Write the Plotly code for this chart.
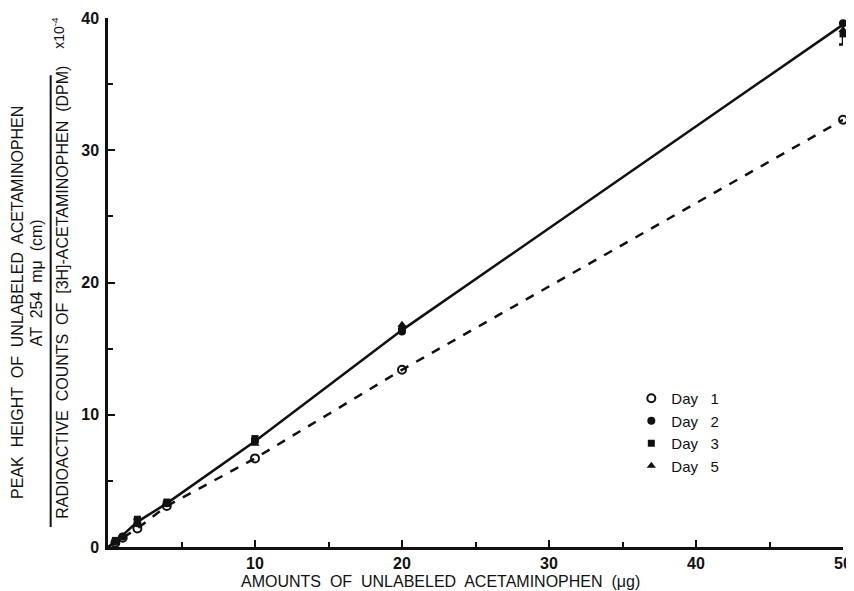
import plotly.graph_objects as go

# Data
day1_x = [0.5, 1, 2, 4, 10, 20, 50]
day1_y = [0.3, 0.7, 1.4, 3.1, 6.7, 13.4, 32.3]
day2_x = [0.5, 1, 2, 4, 10, 20, 50]
day2_y = [0.4, 0.8, 1.8, 3.3, 8.0, 16.3, 39.6]
day3_x = [0.5, 2, 4, 10, 20, 50]
day3_y = [0.5, 2.1, 3.4, 8.2, 16.5, 38.8]
day3_err = [0, 0, 0, 0, 0, 0.8]
day5_x = [4, 10, 20, 50]
day5_y = [3.2, 7.8, 16.8, 39.1]
fit_solid_x = [0, 0.5, 1, 2, 4, 10, 20, 50]
fit_solid_y = [0, 0.4, 0.9, 1.9, 3.3, 8.0, 16.4, 39.5]
fit_dash_x = [0, 0.5, 1, 2, 4, 10, 20, 50]
fit_dash_y = [0, 0.3, 0.7, 1.4, 3.1, 6.7, 13.4, 32.3]

x_ticks = [10, 20, 30, 40, 50]
y_ticks = [0, 10, 20, 30, 40]

INK = "#111111"
FONT = "Liberation Sans, Arial, sans-serif"

fig = go.Figure()
fig.add_trace(go.Scatter(x=fit_solid_x, y=fit_solid_y, mode="lines",
                         line=dict(color=INK, width=2.5), showlegend=False,
                         hoverinfo="skip", cliponaxis=False))
fig.add_trace(go.Scatter(x=fit_dash_x, y=fit_dash_y, mode="lines",
                         line=dict(color=INK, width=2.5, dash="dash"), showlegend=False,
                         hoverinfo="skip", cliponaxis=False))
fig.add_trace(go.Scatter(x=day1_x, y=day1_y, mode="markers", name="Day   1",
                         marker=dict(symbol="circle-open", size=8, color=INK, line=dict(width=2)),
                         cliponaxis=False))
fig.add_trace(go.Scatter(x=day2_x, y=day2_y, mode="markers", name="Day   2",
                         marker=dict(symbol="circle", size=8, color=INK),
                         cliponaxis=False))
fig.add_trace(go.Scatter(x=day3_x, y=day3_y, mode="markers", name="Day   3",
                         marker=dict(symbol="square", size=7, color=INK),
                         error_y=dict(type="data", array=day3_err, color=INK, thickness=2.5, width=4),
                         cliponaxis=False))
fig.add_trace(go.Scatter(x=day5_x, y=day5_y, mode="markers", name="Day   5",
                         marker=dict(symbol="triangle-up", size=8, color=INK),
                         cliponaxis=False))

axis_common = dict(showline=True, linecolor=INK, linewidth=2.5, showgrid=False,
                   zeroline=False, ticks="inside", tickcolor=INK, tickwidth=2,
                   ticklen=7, automargin=False,
                   tickfont=dict(family=FONT, size=16, color=INK, weight="bold"),
                   minor=dict(ticks="inside", ticklen=5, tickcolor=INK, tickwidth=1.5, dtick=5))

fig.update_xaxes(range=[0, 50], tickvals=x_ticks, ticktext=[str(v) for v in x_ticks],
                 title=None, **axis_common)
fig.update_yaxes(range=[0, 40], tickvals=y_ticks, ticktext=[str(v) for v in y_ticks],
                 ticklabelstandoff=3, title=None, **axis_common)

ann_font = dict(family=FONT, size=16, color=INK)
fig.update_layout(
    width=846, height=583,
    margin=dict(l=100, r=11, t=10, b=44, autoexpand=False),
    paper_bgcolor="white", plot_bgcolor="white",
    showlegend=True,
    legend=dict(x=0.712, y=0.312, xanchor="left", yanchor="top",
                font=dict(family=FONT, size=15, color=INK),
                bgcolor="rgba(0,0,0,0)", tracegroupgap=0, itemwidth=30),
    annotations=[
        dict(text="AMOUNTS  OF  UNLABELED  ACETAMINOPHEN  (\u03bcg)",
             xref="paper", yref="paper", x=0.453, y=-0.066, xanchor="center", yanchor="middle",
             showarrow=False, font=ann_font),
        dict(text="PEAK  HEIGHT  OF  UNLABELED  ACETAMINOPHEN", textangle=-90,
             xref="paper", yref="paper", x=-0.124, y=0.463, xanchor="center", yanchor="middle",
             showarrow=False, font=ann_font),
        dict(text="AT  254  m\u03bc  (cm)", textangle=-90,
             xref="paper", yref="paper", x=-0.097, y=0.5, xanchor="center", yanchor="middle",
             showarrow=False, font=ann_font),
        dict(text="RADIOACTIVE  COUNTS  OF  [3H]-ACETAMINOPHEN  (DPM)", textangle=-90,
             xref="paper", yref="paper", x=-0.063, y=0.482, xanchor="center", yanchor="middle",
             showarrow=False, font=ann_font),
        dict(text="x10<sup>-4</sup>", textangle=-90,
             xref="paper", yref="paper", x=-0.068, y=0.972, xanchor="center", yanchor="middle",
             showarrow=False, font=dict(family=FONT, size=14, color=INK)),
    ],
    shapes=[
        dict(type="line", xref="paper", yref="paper", x0=-0.078, x1=-0.078, y0=0.038, y1=0.892,
             line=dict(color=INK, width=2)),
    ],
)

fig.write_html("out.html")
